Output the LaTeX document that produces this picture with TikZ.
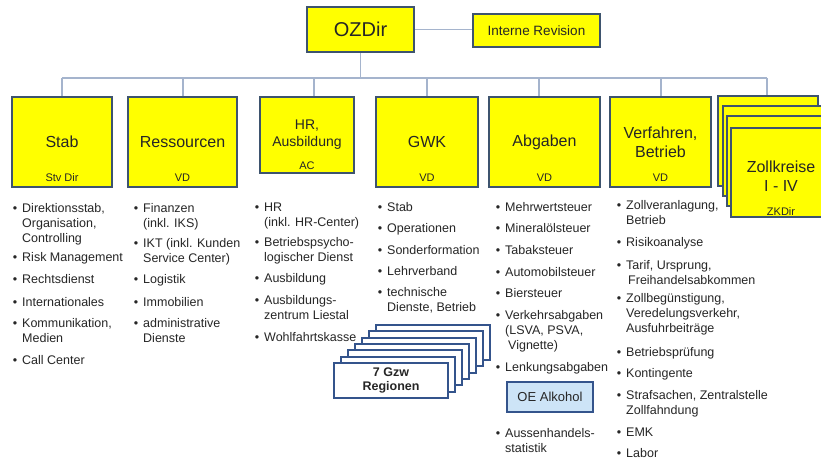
\documentclass[tikz,border=0pt]{standalone}
\usepackage{fontspec}
\setmainfont{Liberation Sans}
\definecolor{boxy}{RGB}{255,255,0}
\definecolor{boxb}{RGB}{62,84,110}
\definecolor{linec}{RGB}{165,180,205}
\definecolor{txt}{RGB}{38,38,38}
\definecolor{gzwb}{RGB}{52,84,140}
\definecolor{oefill}{RGB}{205,228,247}
\newcommand\bitem[4]{%
  \node[bul] (#1b) at (#2-7,#3+4.5) {\textbullet};
  \node[itm] (#1) at (#2,#3-6) {\strut#4};
}
\tikzset{
  ybox/.style={draw=boxb, fill=boxy, line width=2.5pt, inner sep=0pt, align=center, text=txt},
  bigt/.style={font=\fontsize{16}{19}\selectfont},
  subt/.style={font=\fontsize{11}{13}\selectfont, text=txt, inner sep=0pt},
  conn/.style={draw=linec, line width=1.4pt},
  bul/.style={anchor=base, inner sep=0pt, text=txt, font=\fontsize{12.5}{15}\selectfont},
  itm/.style={anchor=north west, inner sep=0pt, align=left, text=txt, font=\fontsize{12.5}{15}\selectfont},
  gbox/.style={draw=gzwb, fill=white, line width=2pt, minimum width=114pt, minimum height=35pt, inner sep=0pt, align=center, text=txt, font=\bfseries\fontsize{12.5}{13.5}\selectfont},
}
\begin{document}
\begin{tikzpicture}[x=1pt,y=-1pt]
\fill[white] (0,0) rectangle (821,461);
\useasboundingbox (0,0) rectangle (821,461);

% top
\node[ybox, minimum width=107pt, minimum height=45pt, font=\fontsize{20}{24}\selectfont] (oz) at (360.5,29.5) {OZDir};
\node[ybox, minimum width=127pt, minimum height=33pt, font=\fontsize{13.5}{16}\selectfont] (ir) at (536.5,30.5) {Interne Revision};

% bus coordinates
\coordinate (bL) at (62,78);
\coordinate (bR) at (767,78);
\coordinate (b1) at (62,78);
\coordinate (b2) at (183,78);
\coordinate (b3) at (314,78);
\coordinate (b4) at (427,78);
\coordinate (b5) at (539,78);
\coordinate (b6) at (661,78);
\coordinate (b7) at (767,78);

% departments
\node[ybox, bigt, minimum width=100pt, minimum height=90pt] (stab) at (62,142) {Stab};
\node[ybox, bigt, minimum width=109pt, minimum height=90pt] (res) at (182.5,142) {Ressourcen};
\node[ybox, minimum width=94pt, minimum height=76pt, font=\fontsize{14}{17}\selectfont] (hr) at (307,135) {HR,\\Ausbildung};
\node[ybox, bigt, minimum width=102pt, minimum height=90pt] (gwk) at (427,142) {GWK};
\node[ybox, bigt, minimum width=111pt, minimum height=90pt] (abg) at (544.5,142) {Abgaben};
\node[ybox, bigt, minimum width=101pt, minimum height=90pt] (ver) at (660.5,142) {Verfahren,\\Betrieb};

\node[subt] (stabs) at (62,178) {Stv Dir};
\node[subt] (ress) at (182.5,178) {VD};
\node[subt] (hrs) at (307,166) {AC};
\node[subt] (gwks) at (427,178) {VD};
\node[subt] (abgs) at (544.5,178) {VD};
\node[subt] (vers) at (660.5,178) {VD};

% connectors
\draw[conn] (oz.east) -- (oz.east -| ir.west);
\draw[conn] (oz.south) -- (oz.south |- bL);
\draw[conn] (bL) -- (bR);
\draw[conn] (b1) -- (b1 |- stab.north);
\draw[conn] (b2) -- (b2 |- res.north);
\draw[conn] (b3) -- (b3 |- hr.north);
\draw[conn] (b4) -- (b4 |- gwk.north);
\draw[conn] (b5) -- (b5 |- abg.north);
\draw[conn] (b6) -- (b6 |- ver.north);

% column 1
\bitem{c1a}{22}{208}{Direktionsstab,\\Organisation,\\Controlling}
\bitem{c1b}{22}{257}{Risk Management}
\bitem{c1c}{22}{279}{Rechtsdienst}
\bitem{c1d}{22}{302}{Internationales}
\bitem{c1e}{22}{323}{Kommunikation,\\Medien}
\bitem{c1f}{22}{360}{Call Center}
% column 2
\bitem{c2a}{143}{208}{Finanzen\\(inkl. IKS)}
\bitem{c2b}{143}{243}{IKT (inkl. Kunden\\Service Center)}
\bitem{c2c}{143}{279}{Logistik}
\bitem{c2d}{143}{302}{Immobilien}
\bitem{c2e}{143}{323}{administrative\\Dienste}
% column 3
\bitem{c3a}{264}{207}{HR\\(inkl. HR-Center)}
\bitem{c3b}{264}{242}{Betriebspsycho-\\logischer Dienst}
\bitem{c3c}{264}{278}{Ausbildung}
\bitem{c3d}{264}{300}{Ausbildungs-\\zentrum Liestal}
\bitem{c3e}{264}{337}{Wohlfahrtskasse}
% column 4
\bitem{c4a}{387}{207}{Stab}
\bitem{c4b}{387}{228}{Operationen}
\bitem{c4c}{387}{250}{Sonderformation}
\bitem{c4d}{387}{271}{Lehrverband}
\bitem{c4e}{387}{292}{technische\\Dienste, Betrieb}
% column 5
\bitem{c5a}{505}{207}{Mehrwertsteuer}
\bitem{c5b}{505}{228}{Mineralölsteuer}
\bitem{c5c}{505}{250}{Tabaksteuer}
\bitem{c5d}{505}{272}{Automobilsteuer}
\bitem{c5e}{505}{293}{Biersteuer}
\bitem{c5f}{505}{315}{Verkehrsabgaben\\(LSVA, PSVA,\\\hspace{3pt}Vignette)}
\bitem{c5g}{505}{367}{Lenkungsabgaben}
\bitem{c5h}{505}{433}{Aussenhandels-\\statistik}
\node[draw=gzwb, fill=oefill, line width=2pt, minimum width=86pt, minimum height=30pt, inner sep=0pt, text=txt, font=\fontsize{13}{15}\selectfont] (oe) at (550,397) {OE Alkohol};
% column 6
\bitem{c6a}{626}{205}{Zollveranlagung,\\Betrieb}
\bitem{c6b}{626}{242}{Risikoanalyse}
\bitem{c6c}{626}{265}{Tarif, Ursprung,\\\hspace{2pt}Freihandelsabkommen}
\bitem{c6d}{626}{298}{Zollbegünstigung,\\Veredelungsverkehr,\\Ausfuhrbeiträge}
\bitem{c6e}{626}{352}{Betriebsprüfung}
\bitem{c6f}{626}{373}{Kontingente}
\bitem{c6g}{626}{395}{Strafsachen, Zentralstelle\\Zollfahndung}
\bitem{c6h}{626}{432}{EMK}
\bitem{c6i}{626}{453}{Labor}

% Zollkreise stack
\node[ybox, minimum width=100pt, minimum height=90pt] (zk1) at (768,141) {};
\node[ybox, minimum width=100pt, minimum height=90pt] (zk2) at (773,151) {};
\node[ybox, minimum width=100pt, minimum height=90pt] (zk3) at (777,161) {};
\node[ybox, minimum width=100pt, minimum height=89pt] (zk) at (781,172.5) {};
\node[bigt, align=center, text=txt, inner sep=0pt] (zkt) at (781,176) {Zollkreise\\I - IV};
\node[subt] (zks) at (781,212) {ZKDir};
\draw[conn] (b7) -- (b7 |- zk1.north);

% 7 Gzw Regionen stack
\node[gbox] (g1) at (433,342.5) {};
\node[gbox] (g2) at (426,348.8) {};
\node[gbox] (g3) at (419,355.2) {};
\node[gbox] (g4) at (412,361.5) {};
\node[gbox] (g5) at (405,367.8) {};
\node[gbox] (g6) at (398,374.2) {};
\node[gbox] (g7) at (391,380.5) {7 Gzw\\Regionen};
\end{tikzpicture}
\end{document}
